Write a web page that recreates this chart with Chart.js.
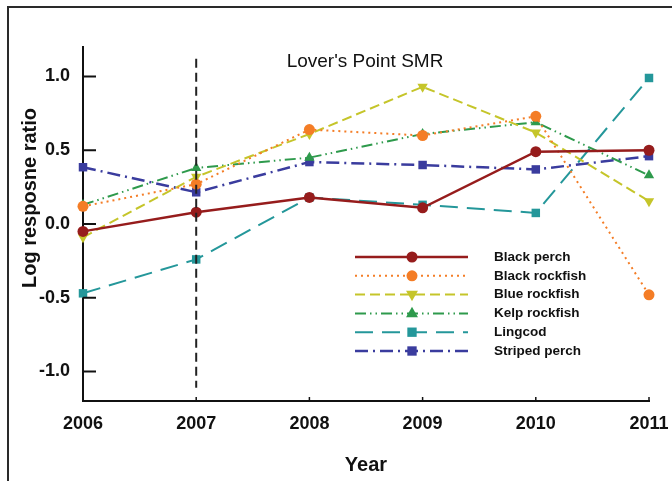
<!DOCTYPE html>
<html>
<head>
<meta charset="utf-8">
<script src="https://cdn.jsdelivr.net/npm/chart.js@4/dist/chart.umd.min.js"></script>
<style>
  html, body { margin: 0; padding: 0; background: #fff; }
  #wrap { width: 672px; height: 481px; position: relative; }
</style>
</head>
<body>
<div id="wrap"><canvas id="chart" width="672" height="481"></canvas></div>
<script>
// Data
const years = [2006, 2007, 2008, 2009, 2010, 2011];
const yTicks = [-1.0, -0.5, 0.0, 0.5, 1.0];
const blackPerch    = [-0.05, 0.08, 0.18, 0.11, 0.49, 0.50];
const blackRockfish = [0.12, 0.27, 0.64, 0.60, 0.73, -0.48];
const blueRockfish  = [-0.09, 0.32, 0.61, 0.93, 0.62, 0.155];
const kelpRockfish  = [0.13, 0.38, 0.45, 0.61, 0.69, 0.33];
const lingcod       = [-0.47, -0.24, 0.18, 0.13, 0.075, 0.99];
const stripedPerch  = [0.385, 0.215, 0.42, 0.40, 0.37, 0.46];
const refYear = 2007;
const refSpan = [1.12, -1.11];

const toPts = arr => arr.map((v, i) => ({ x: years[i], y: v }));

function series(label, data, color, dash, width, style, rotation, radius) {
  return {
    label, data: toPts(data),
    borderColor: color, backgroundColor: color,
    borderDash: dash, borderWidth: width,
    pointStyle: style, pointRotation: rotation || 0,
    pointRadius: radius || 5.5, pointBorderWidth: 0,
    tension: 0, clip: false, inLegend: true
  };
}

const datasets = [
  {
    label: 'ref', data: refSpan.map(v => ({ x: refYear, y: v })),
    borderColor: '#222', borderDash: [9, 5], borderWidth: 2,
    pointRadius: 0, clip: false
  },
  series('Black perch', blackPerch, '#961c1c', [], 2.5, 'circle'),
  series('Black rockfish', blackRockfish, '#f47d26', [2, 4], 2, 'circle'),
  series('Blue rockfish', blueRockfish, '#c5c52a', [10, 5], 2, 'triangle', 180, 6),
  series('Kelp rockfish', kelpRockfish, '#2e9a4c', [11, 4, 1.5, 4, 1.5, 4], 2, 'triangle', 0, 6),
  series('Lingcod', lingcod, '#24979a', [18, 9], 2, 'rect', 0, 6),
  series('Striped perch', stripedPerch, '#3a3c9e', [13, 5, 2, 5], 2.5, 'rect', 0, 6)
];

function marker(ctx, style, rot, x, y, r, color) {
  ctx.save();
  ctx.fillStyle = color;
  ctx.translate(x, y);
  ctx.rotate(rot * Math.PI / 180);
  ctx.beginPath();
  if (style === 'circle') {
    ctx.arc(0, 0, r, 0, Math.PI * 2);
  } else if (style === 'triangle') {
    const s = r * 1.2;
    ctx.moveTo(0, -s);
    ctx.lineTo(s * 0.9, s * 0.6);
    ctx.lineTo(-s * 0.9, s * 0.6);
    ctx.closePath();
  } else {
    ctx.rect(-r * 0.85, -r * 0.85, r * 1.7, r * 1.7);
  }
  ctx.fill();
  ctx.restore();
}

const decor = {
  id: 'decor',
  beforeDraw(chart) {
    const ctx = chart.ctx;
    ctx.save();
    ctx.fillStyle = '#fff';
    ctx.fillRect(0, 0, chart.width, chart.height);
    // frame
    ctx.strokeStyle = '#2a2a2a';
    ctx.lineWidth = 2;
    ctx.beginPath();
    ctx.moveTo(8, 481);
    ctx.lineTo(8, 7);
    ctx.lineTo(672, 7);
    ctx.stroke();
    ctx.restore();
  },
  afterDraw(chart) {
    const ctx = chart.ctx;
    const xs = chart.scales.x, ys = chart.scales.y;
    const a = chart.chartArea;
    ctx.save();
    // inward tick marks
    ctx.strokeStyle = '#111';
    ctx.lineWidth = 2;
    ys.ticks.forEach(t => {
      const py = ys.getPixelForValue(t.value);
      ctx.beginPath();
      ctx.moveTo(a.left, py);
      ctx.lineTo(a.left + 13, py);
      ctx.stroke();
    });
    ctx.lineWidth = 1.5;
    xs.ticks.forEach(t => {
      const px = xs.getPixelForValue(t.value);
      ctx.beginPath();
      ctx.moveTo(px, a.bottom);
      ctx.lineTo(px, a.bottom - 4);
      ctx.stroke();
    });
    // titles
    ctx.fillStyle = '#111';
    ctx.textAlign = 'center';
    ctx.textBaseline = 'middle';
    ctx.font = '19px "Liberation Sans", Arial, sans-serif';
    ctx.fillText("Lover's Point SMR", 365, 62);
    ctx.save();
    ctx.translate(30, 198);
    ctx.rotate(-Math.PI / 2);
    ctx.font = 'bold 20px "Liberation Sans", Arial, sans-serif';
    ctx.fillText('Log resposne ratio', 0, 0);
    ctx.restore();
    // legend
    const rowY0 = 257, rowH = 18.8, x0 = 355, x1 = 468, mx = 412, tx = 494;
    ctx.font = 'bold 13.5px "Liberation Sans", Arial, sans-serif';
    ctx.textAlign = 'left';
    chart.data.datasets.filter(d => d.inLegend).forEach((d, i) => {
      const y = rowY0 + i * rowH;
      ctx.save();
      ctx.strokeStyle = d.borderColor;
      ctx.lineWidth = d.borderWidth;
      ctx.setLineDash(d.borderDash);
      ctx.beginPath();
      ctx.moveTo(x0, y);
      ctx.lineTo(x1, y);
      ctx.stroke();
      ctx.restore();
      marker(ctx, d.pointStyle, d.pointRotation, mx, y, 5.5, d.borderColor);
      ctx.fillStyle = '#111';
      ctx.fillText(d.label, tx, y);
    });
    ctx.restore();
  }
};

new Chart(document.getElementById('chart'), {
  type: 'line',
  data: { datasets },
  plugins: [decor],
  options: {
    responsive: false,
    animation: false,
    layout: { padding: { top: 47, right: 23, left: 0, bottom: 0 } },
    plugins: { legend: { display: false }, tooltip: { enabled: false }, title: { display: false } },
    scales: {
      x: {
        type: 'linear', min: 2006, max: 2011,
        afterFit: s => { s.height = 80; s.paddingLeft = 0; s.paddingRight = 0; },
        afterBuildTicks: s => { s.ticks = years.map(v => ({ value: v })); },
        grid: { display: false, drawTicks: false },
        border: { display: true, color: '#111', width: 2 },
        ticks: {
          padding: 12, color: '#111',
          font: { family: '"Liberation Sans", Arial, sans-serif', size: 18, weight: 'bold' },
          callback: v => String(v)
        },
        title: {
          display: true, text: 'Year', color: '#111',
          padding: { top: 0, bottom: 4 },
          font: { family: '"Liberation Sans", Arial, sans-serif', size: 20, weight: 'bold' }
        }
      },
      y: {
        type: 'linear', min: -1.2, max: 1.2,
        afterFit: s => { s.width = 83; s.paddingTop = 0; s.paddingBottom = 0; },
        afterBuildTicks: s => { s.ticks = yTicks.map(v => ({ value: v })); },
        grid: { display: false, drawTicks: false },
        border: { display: true, color: '#111', width: 2 },
        ticks: {
          padding: 13, color: '#111',
          font: { family: '"Liberation Sans", Arial, sans-serif', size: 18, weight: 'bold' },
          callback: v => v.toFixed(1)
        }
      }
    }
  }
});
</script>
</body>
</html>
